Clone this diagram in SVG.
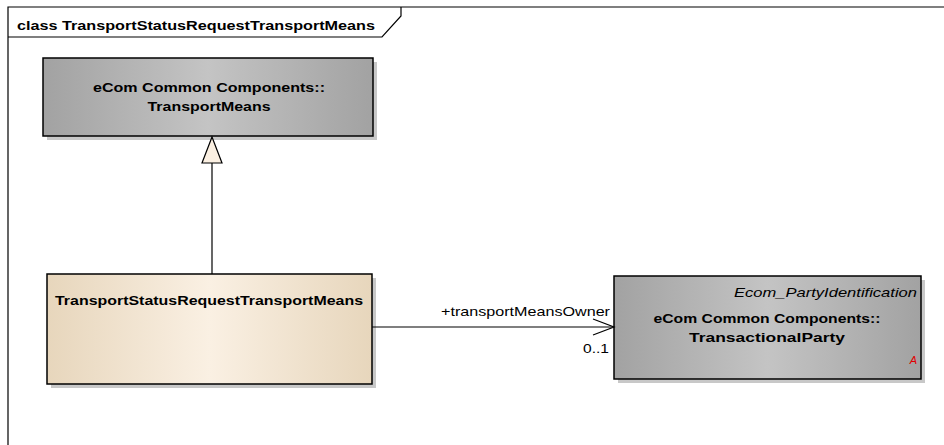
<svg xmlns="http://www.w3.org/2000/svg" width="944" height="445" viewBox="0 0 944 445">
<defs>
<linearGradient id="gGray" x1="0" y1="0" x2="1" y2="0">
<stop offset="0" stop-color="#A2A2A2"/>
<stop offset="0.5" stop-color="#C4C4C4"/>
<stop offset="1" stop-color="#A2A2A2"/>
</linearGradient>
<linearGradient id="gBeige" x1="0" y1="0" x2="1" y2="0">
<stop offset="0" stop-color="#E7D6BC"/>
<stop offset="0.5" stop-color="#FAF0E3"/>
<stop offset="1" stop-color="#E7D6BC"/>
</linearGradient>
<marker id="openArrow" markerWidth="24" markerHeight="20" refX="22" refY="10" orient="auto" markerUnits="userSpaceOnUse">
<path d="M1,2 L22,10 L1,18" fill="none" stroke="#000" stroke-width="1.2"/>
</marker>
</defs>
<style>
.frame{fill:none;stroke:#000;stroke-width:1.2}
.box{stroke:#000;stroke-width:1.5}
.shadow{fill:#C8C8C8}
.bold{font-family:"Liberation Sans",Arial,sans-serif;font-weight:bold;font-size:13.5px;fill:#000}
.reg{font-family:"Liberation Sans",Arial,sans-serif;font-size:13.5px;fill:#000}
.ital{font-family:"Liberation Sans",Arial,sans-serif;font-style:italic;font-size:13.5px;fill:#000}
.conn{stroke:#000;stroke-width:1.2;fill:none}
</style>
<rect width="944" height="445" fill="#FFFFFF"/>
<g id="frame">
<path class="frame" d="M8,445 L8,7 L944,7"/>
<path class="frame" d="M8,37 L382,37 L401,16 L401,7"/>
<text class="bold" x="17" y="30" textLength="358" lengthAdjust="spacingAndGlyphs">class TransportStatusRequestTransportMeans</text>
</g>
<g id="TransportMeans">
<rect class="shadow" x="47" y="62" width="330" height="78"/>
<rect class="box" x="43" y="58" width="330" height="78" fill="url(#gGray)"/>
<text class="bold" x="209" y="92" text-anchor="middle" textLength="232" lengthAdjust="spacingAndGlyphs">eCom Common Components::</text>
<text class="bold" x="209" y="111" text-anchor="middle" textLength="123" lengthAdjust="spacingAndGlyphs">TransportMeans</text>
</g>
<g id="TransportStatusRequestTransportMeans">
<rect class="shadow" x="51" y="278" width="325" height="110"/>
<rect class="box" x="47" y="274" width="325" height="110" fill="url(#gBeige)"/>
<text class="bold" x="55" y="305" textLength="308" lengthAdjust="spacingAndGlyphs">TransportStatusRequestTransportMeans</text>
</g>
<g id="TransactionalParty">
<rect class="shadow" x="618" y="280" width="307" height="103"/>
<rect class="box" x="614" y="276" width="307" height="103" fill="url(#gGray)"/>
<text class="ital" x="917" y="297" text-anchor="end" textLength="183" lengthAdjust="spacingAndGlyphs">Ecom_PartyIdentification</text>
<text class="bold" x="767" y="323" text-anchor="middle" textLength="227" lengthAdjust="spacingAndGlyphs">eCom Common Components::</text>
<text class="bold" x="767" y="342" text-anchor="middle" textLength="156" lengthAdjust="spacingAndGlyphs">TransactionalParty</text>
<text x="917" y="364" text-anchor="end" font-family="Liberation Sans, Arial, sans-serif" font-style="italic" font-size="11" fill="#E00000">A</text>
</g>
<g id="connectors">
<line class="conn" x1="212" y1="274" x2="212" y2="163"/>
<path d="M212,137 L222,163 L202,163 Z" fill="#FBF0E2" stroke="#000" stroke-width="1.2"/>
<line class="conn" x1="372" y1="327" x2="614" y2="327" marker-end="url(#openArrow)"/>
<text class="reg" x="610" y="316" text-anchor="end" textLength="169" lengthAdjust="spacingAndGlyphs">+transportMeansOwner</text>
<text class="reg" x="609" y="353" text-anchor="end" textLength="26" lengthAdjust="spacingAndGlyphs">0..1</text>
</g>
</svg>
